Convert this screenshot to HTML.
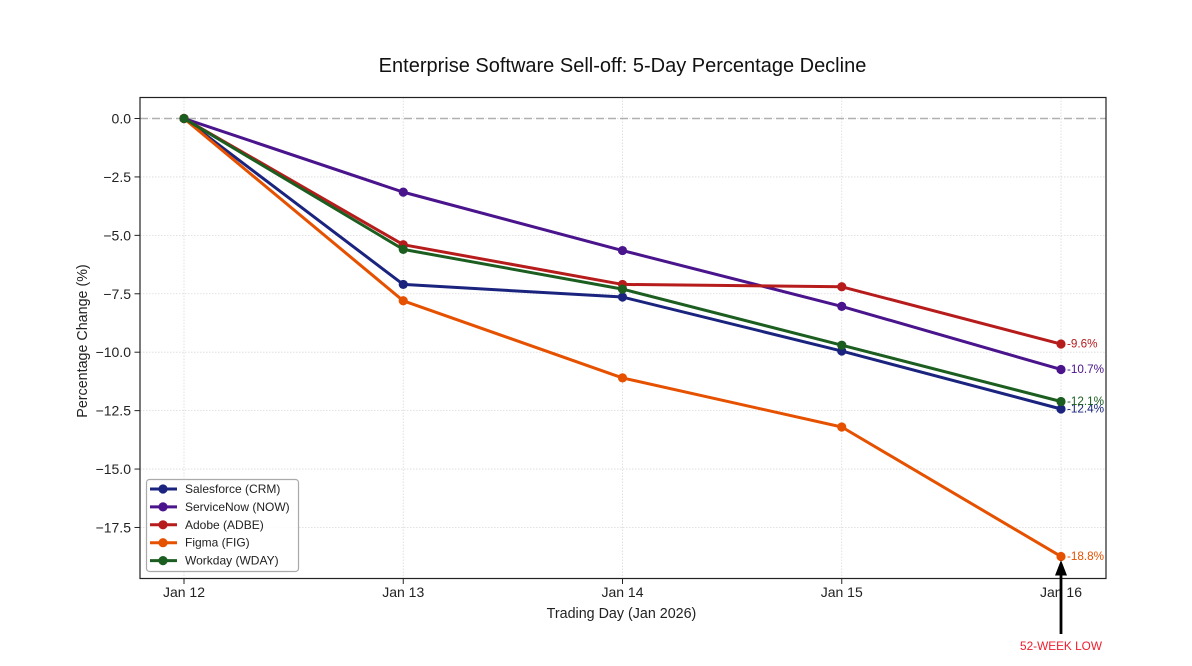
<!DOCTYPE html>
<html>
<head>
<meta charset="utf-8">
<style>
html,body{margin:0;padding:0;background:#fff;}
svg{display:block;font-family:"Liberation Sans",sans-serif;}
</style>
</head>
<body>
<svg id="chart" width="1192" height="666" viewBox="0 0 1192 666" xmlns="http://www.w3.org/2000/svg">
<rect x="0" y="0" width="1192" height="666" fill="#ffffff"/>
<text x="622.5" y="72" text-anchor="middle" font-size="20" fill="#111">Enterprise Software Sell-off: 5-Day Percentage Decline</text>
<text x="621.5" y="618" text-anchor="middle" font-size="14.3" fill="#222">Trading Day (Jan 2026)</text>
<text x="87" y="341" text-anchor="middle" font-size="14.3" fill="#222" transform="rotate(-90 87 341)">Percentage Change (%)</text>
<g id="grid"></g>
<g id="series"></g>
<rect x="140" y="97.5" width="966" height="481" fill="none" stroke="#222" stroke-width="1.2"/>
<g id="ticks"></g>
<g id="annotation"></g>
<g id="legend"></g>
</svg>
<script>
const categories = ["Jan 12", "Jan 13", "Jan 14", "Jan 15", "Jan 16"];
const yTicks = [0, -2.5, -5, -7.5, -10, -12.5, -15, -17.5];
const yTickLabels = ["0.0", "\u22122.5", "\u22125.0", "\u22127.5", "\u221210.0", "\u221212.5", "\u221215.0", "\u221217.5"];
const seriesNames = ["Salesforce (CRM)", "ServiceNow (NOW)", "Adobe (ADBE)", "Figma (FIG)", "Workday (WDAY)"];
const seriesColors = ["#1a237e", "#4a148c", "#b71c1c", "#e65100", "#1b5e20"];
const crmValues = [0, -7.1, -7.64, -9.95, -12.43];
const nowValues = [0, -3.15, -5.65, -8.04, -10.74];
const adbeValues = [0, -5.4, -7.1, -7.2, -9.65];
const figValues = [0, -7.8, -11.1, -13.2, -18.74];
const wdayValues = [0, -5.6, -7.3, -9.7, -12.11];
const seriesValues = [crmValues, nowValues, adbeValues, figValues, wdayValues];
const endLabels = ["-12.4%", "-10.7%", "-9.6%", "-18.8%", "-12.1%"];

const NS = "http://www.w3.org/2000/svg";
function xScale(i) { return 184 + i * 219.25; }
function yScale(v) { return 118.5 - v * 23.37; }
function make(parent, tag, attrs, text) {
  const el = document.createElementNS(NS, tag);
  for (const k in attrs) el.setAttribute(k, attrs[k]);
  if (text !== undefined) el.textContent = text;
  parent.appendChild(el);
  return el;
}

const grid = document.getElementById("grid");
const ticks = document.getElementById("ticks");
const seriesG = document.getElementById("series");
const annotation = document.getElementById("annotation");
const legend = document.getElementById("legend");

categories.forEach(function (c, i) {
  const x = xScale(i);
  const g = make(grid, "line", {x1: x, x2: x, y1: 97.5, y2: 578.5, stroke: "#d9d9d9", "stroke-width": 0.8, "stroke-dasharray": "1.5 1.5"});
  
  
  const t = make(ticks, "line", {x1: x, x2: x, y1: 578.5, y2: 584, stroke: "#222", "stroke-width": 1});
  
  
  const l = make(ticks, "text", {x: x, y: 597, "text-anchor": "middle", "font-size": 14, fill: "#222"}, c);
  
  
});

yTicks.forEach(function (v, i) {
  const y = yScale(v);
  const g = make(grid, "line", {x1: 140, x2: 1106, y1: y, y2: y, stroke: "#d9d9d9", "stroke-width": 0.8, "stroke-dasharray": "1.5 1.5"});
  
  
  const t = make(ticks, "line", {x1: 134.5, x2: 140, y1: y, y2: y, stroke: "#222", "stroke-width": 1});
  
  
  const l = make(ticks, "text", {x: 131, y: y + 5, "text-anchor": "end", "font-size": 14, fill: "#222"}, yTickLabels[i]);
  
  
});

const zeroLine = make(grid, "line", {x1: 140, x2: 1106, y1: yScale(0), y2: yScale(0), stroke: "#b0b0b0", "stroke-width": 1.6, "stroke-dasharray": "8 4"});



seriesValues.forEach(function (vals, s) {
  const pts = vals.map(function (v, i) { return xScale(i) + "," + yScale(v); }).join(" ");
  const line = make(seriesG, "polyline", {points: pts, fill: "none", stroke: seriesColors[s], "stroke-width": 3, "stroke-linejoin": "round"});
  
  
  vals.forEach(function (v, i) {
    const p = make(seriesG, "circle", {cx: xScale(i), cy: yScale(v), r: 4.6, fill: seriesColors[s]});
    
    
  });
  const last = vals.length - 1;
  const label = make(seriesG, "text", {x: xScale(last) + 6, y: yScale(vals[last]) + 3.5, "font-size": 11.7, fill: seriesColors[s]}, endLabels[s]);
  
  
});

const lowX = xScale(4);
const lowY = yScale(figValues[4]);
const arrowShaft = make(annotation, "line", {x1: lowX, x2: lowX, y1: 634, y2: lowY + 16, stroke: "#000", "stroke-width": 2.8});


const arrowHead = make(annotation, "polygon", {points: lowX + "," + (lowY + 3.5) + " " + (lowX - 6) + "," + (lowY + 19) + " " + (lowX + 6) + "," + (lowY + 19), fill: "#000"});


const lowText = make(annotation, "text", {x: lowX, y: 650, "text-anchor": "middle", "font-size": 11.8, fill: "#f01c2c"}, "52-WEEK LOW");



const legendBox = make(legend, "rect", {x: 146.5, y: 479.5, width: 152, height: 92, rx: 3, fill: "#fff", "fill-opacity": 0.85, stroke: "#aaa", "stroke-width": 1.2});


seriesNames.forEach(function (n, s) {
  const y = 489 + s * 17.9;
  const ll = make(legend, "line", {x1: 150, x2: 177, y1: y, y2: y, stroke: seriesColors[s], "stroke-width": 3});
  
  
  const lc = make(legend, "circle", {cx: 163, cy: y, r: 4.6, fill: seriesColors[s]});
  
  
  const lt = make(legend, "text", {x: 185, y: y + 4, "font-size": 12, fill: "#222"}, n);
  
  
});
</script>
</body>
</html>
